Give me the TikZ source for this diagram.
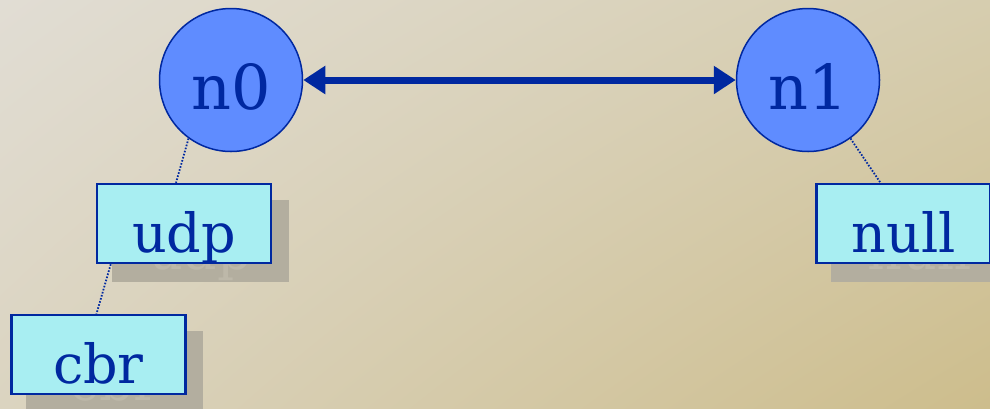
\documentclass[tikz,border=0pt]{standalone}
\usepackage{fontspec}
\setmainfont{DejaVu Serif}
\usetikzlibrary{arrows.meta}
\usetikzlibrary{calc}
\usetikzlibrary{shadings}

\definecolor{nsblue}{HTML}{0028A0}
\definecolor{nodefill}{HTML}{5F8CFF}
\definecolor{agentfill}{HTML}{A8EEF2}
\definecolor{shadowgray}{HTML}{B3AE9F}
\definecolor{ghostgray}{HTML}{BDB8A9}
\definecolor{bgul}{HTML}{E1DDD4}
\definecolor{bgur}{HTML}{D6CDAF}
\definecolor{bgll}{HTML}{DBD4C0}
\definecolor{bglr}{HTML}{CDBD8C}

\begin{document}
\begin{tikzpicture}[x=1pt,y=-1pt,
		nodecirc/.style={circle,draw=nsblue,line width=1.5pt,fill=nodefill,
			text=nsblue,minimum size=143pt,inner sep=0pt,
			text height=58pt,text depth=0pt,font=\fontsize{62}{62}\selectfont},
		agentbox/.style={rectangle,draw=nsblue,line width=2.5pt,fill=agentfill,
			text=nsblue,minimum width=174pt,minimum height=79pt,inner sep=0pt,
			text height=58pt,text depth=0pt,font=\fontsize{54}{54}\selectfont},
		agentshadow/.style={rectangle,fill=shadowgray,text=ghostgray,
			minimum width=177pt,minimum height=82pt,inner sep=0pt,
			text height=58pt,text depth=0pt,font=\fontsize{54}{54}\selectfont},
		attach/.style={draw=nsblue,line width=1.8pt,dash pattern=on 1.6pt off 1.6pt}]
		
		% Background
		\useasboundingbox (0,0) rectangle (990,408);
		\shade[upper left=bgul,upper right=bgur,lower left=bgll,lower right=bglr]
		(0,0) rectangle (990,408);
		
		% Shadows of the agents
		\foreach \x/\y/\txt in {184/223.5/udp, 98.5/354.5/cbr, 903.5/223.5/null}{
			\node[agentshadow] at (\x+16,\y+17) {\txt};
		}
		
		% Nodes
		\node[nodecirc] (n0) at (231,80) {n0};
		\node[nodecirc] (n1) at (808,80) {n1};
		
		% Link (duplex)
		\draw[nsblue,line width=7pt,{Triangle[length=22pt,width=27pt]}-{Triangle[length=22pt,width=27pt]}]
		(n0) -- (n1);
		
		% Agents
		\node[agentbox] (udp) at (184,223.5) {udp};
		\node[agentbox] (cbr) at (98.5,354.5) {cbr};
		\node[agentbox] (null) at (903.5,223.5) {null};
		
		% Attachments
		\draw[attach] (n0.234) -- ($(udp.north)+(-8,0)$);
		\draw[attach] ($(udp.south west)+(15,0)$) -- ($(cbr.north)+(-2,0)$);
		\draw[attach] (n1.306) -- ($(null.north)+(-23,0)$);
	\end{tikzpicture}
\end{document}
